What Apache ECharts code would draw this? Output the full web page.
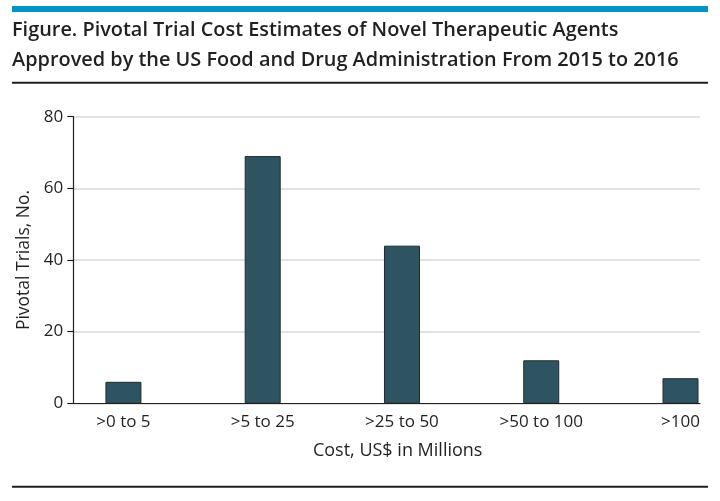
<!DOCTYPE html>
<html>
<head>
<meta charset="utf-8">
<script src="https://cdn.jsdelivr.net/npm/echarts@6/dist/echarts.min.js"></script>
<style>
  html, body { margin: 0; padding: 0; background: #fff; }
  #chart { width: 720px; height: 501px; }
</style>
</head>
<body>
<div id="chart"></div>
<script>
const titleLines = [
  'Figure. Pivotal Trial Cost Estimates of Novel Therapeutic Agents',
  'Approved by the US Food and Drug Administration From 2015 to 2016'
];
const categories = ['>0 to 5', '>5 to 25', '>25 to 50', '>50 to 100', '>100'];
const trials = [6, 69, 44, 12, 7];
const yTicks = [0, 20, 40, 60, 80];
const xAxisTitle = 'Cost, US$ in Millions';
const yAxisTitle = 'Pivotal Trials, No.';

const ink = '#231f20';
const chart = echarts.init(document.getElementById('chart'), null, { renderer: 'canvas' });

chart.setOption({
  animation: false,
  backgroundColor: '#fff',
  title: {
    text: titleLines.join('\n'),
    left: 12,
    top: 16,
    padding: 0,
    textStyle: {
      fontFamily: 'Open Sans',
      fontSize: 19.9,
      fontWeight: 600,
      color: ink,
      lineHeight: 29.3
    }
  },
  graphic: [
    { type: 'rect', shape: { x: 12, y: 6, width: 696, height: 6 }, style: { fill: '#0093c6' } },
    { type: 'line', shape: { x1: 12, y1: 82.7, x2: 708, y2: 82.7 }, style: { stroke: ink, lineWidth: 2 } },
    { type: 'line', shape: { x1: 12, y1: 486.7, x2: 708, y2: 486.7 }, style: { stroke: ink, lineWidth: 2 } }
  ],
  grid: { left: 73.3, top: 116.7, width: 626.7, height: 286.6, containLabel: false },
  xAxis: {
    type: 'value',
    min: -0.36,
    max: 4.14,
    splitLine: { show: false },
    axisTick: { show: false },
    axisLine: { show: true, onZero: false, lineStyle: { color: ink, width: 1.2 } },
    axisLabel: {
      customValues: categories.map((c, i) => i),
      formatter: v => categories[Math.round(v)],
      fontFamily: 'Open Sans',
      fontSize: 17,
      color: ink,
      margin: 10
    },
    name: xAxisTitle,
    nameLocation: 'middle',
    nameGap: 39,
    nameTextStyle: {
      fontFamily: 'Open Sans',
      fontSize: 18,
      color: ink,
      padding: [0, 0, 0, 22]
    }
  },
  yAxis: {
    type: 'value',
    min: yTicks[0],
    max: yTicks[yTicks.length - 1],
    interval: yTicks[1] - yTicks[0],
    axisLine: { show: true, onZero: false, lineStyle: { color: ink, width: 1.2 } },
    axisTick: { show: true, length: 6, lineStyle: { color: ink, width: 1.2 } },
    axisLabel: { fontFamily: 'Open Sans', fontSize: 17, color: ink, margin: 10 },
    splitLine: { show: true, lineStyle: { color: '#d9d9d9', width: 1.6 } },
    name: yAxisTitle,
    nameLocation: 'middle',
    nameRotate: 90,
    nameGap: 39,
    nameTextStyle: { fontFamily: 'Open Sans', fontSize: 17.5, color: ink }
  },
  series: [{
    type: 'bar',
    data: trials.map((v, i) => [i, v]),
    barWidth: 36,
    itemStyle: { color: '#2e5462', borderColor: '#1f2a30', borderWidth: 1 }
  }]
});
</script>
</body>
</html>
